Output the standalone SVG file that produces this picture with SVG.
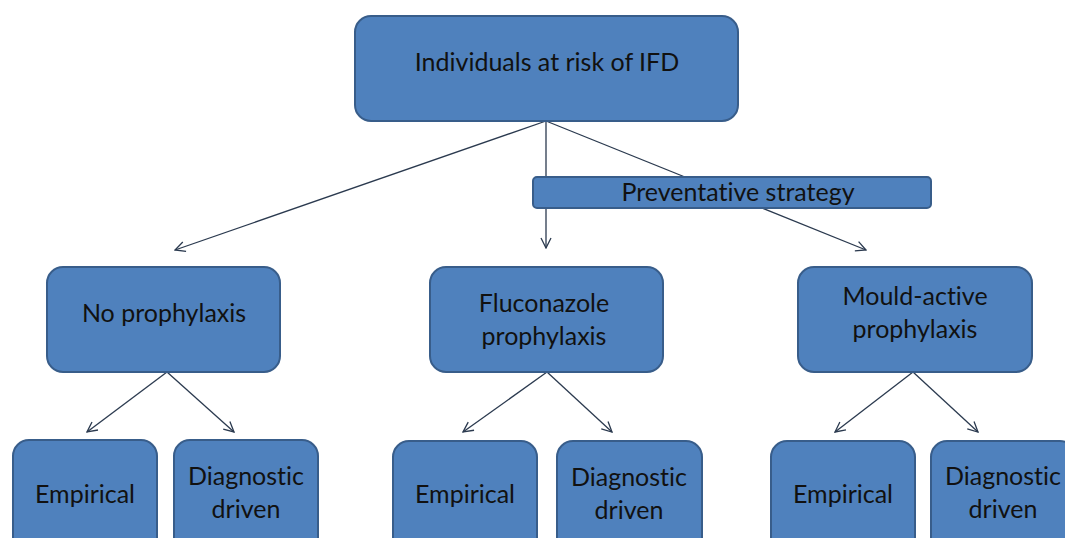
<svg xmlns="http://www.w3.org/2000/svg" width="1065" height="538" viewBox="0 0 1065 538">
<defs>
<style>
.box{fill:#4F81BD;stroke:#385D8A;stroke-width:2}
.t{font-family:Lato,"Liberation Sans",sans-serif;font-size:25px;fill:#111;text-anchor:middle;font-variant-ligatures:none;font-feature-settings:"liga" 0,"dlig" 0}
.c{stroke:#2b3a4f;stroke-width:1.3;fill:none;marker-end:url(#ah)}
</style>
<marker id="ah" viewBox="0 0 12 12" refX="11" refY="6" markerWidth="12" markerHeight="12" markerUnits="userSpaceOnUse" orient="auto">
<path d="M1,1 L11,6 L1,11" fill="none" stroke="#2b3a4f" stroke-width="1.3"/>
</marker>
</defs>
<rect width="1065" height="538" fill="#fff"/>
<g id="connectors">
<line class="c" x1="546" y1="121" x2="175" y2="250"/>
<line class="c" x1="546" y1="121" x2="546" y2="248"/>
<line class="c" x1="546" y1="121" x2="866" y2="250"/>
<line class="c" x1="167" y1="372" x2="87" y2="432"/>
<line class="c" x1="167" y1="372" x2="234" y2="432"/>
<line class="c" x1="547" y1="372" x2="463" y2="432"/>
<line class="c" x1="547" y1="372" x2="612" y2="432"/>
<line class="c" x1="913" y1="372" x2="835" y2="432"/>
<line class="c" x1="913" y1="372" x2="978" y2="432"/>
</g>
<g id="root"><rect class="box" x="355" y="16" width="383" height="105" rx="16"/><text class="t" x="547" y="71">Individuals at risk of IFD</text></g>
<g id="strategy"><rect class="box" x="533" y="177" width="398" height="31" rx="4"/><text class="t" x="738" y="201">Preventative strategy</text></g>
<g id="noproph"><rect class="box" x="47" y="267" width="233" height="105" rx="16"/><text class="t" x="164" y="322">No prophylaxis</text></g>
<g id="fluco"><rect class="box" x="430" y="267" width="233" height="105" rx="16"/><text class="t" x="544" y="312">Fluconazole</text><text class="t" x="544" y="345">prophylaxis</text></g>
<g id="mould"><rect class="box" x="798" y="267" width="234" height="105" rx="16"/><text class="t" x="915" y="305">Mould-active</text><text class="t" x="915" y="338">prophylaxis</text></g>
<g id="emp1"><rect class="box" x="13" y="440" width="144" height="120" rx="16"/><text class="t" x="85" y="503">Empirical</text></g>
<g id="diag1"><rect class="box" x="174" y="440" width="144" height="120" rx="16"/><text class="t" x="246" y="485">Diagnostic</text><text class="t" x="246" y="518">driven</text></g>
<g id="emp2"><rect class="box" x="393" y="441" width="144" height="120" rx="16"/><text class="t" x="465" y="503">Empirical</text></g>
<g id="diag2"><rect class="box" x="557" y="441" width="145" height="120" rx="16"/><text class="t" x="629" y="486">Diagnostic</text><text class="t" x="629" y="519">driven</text></g>
<g id="emp3"><rect class="box" x="771" y="441" width="144" height="120" rx="16"/><text class="t" x="843" y="503">Empirical</text></g>
<g id="diag3"><rect class="box" x="931" y="441" width="145" height="120" rx="16"/><text class="t" x="1003" y="485">Diagnostic</text><text class="t" x="1003" y="518">driven</text></g>
</svg>
